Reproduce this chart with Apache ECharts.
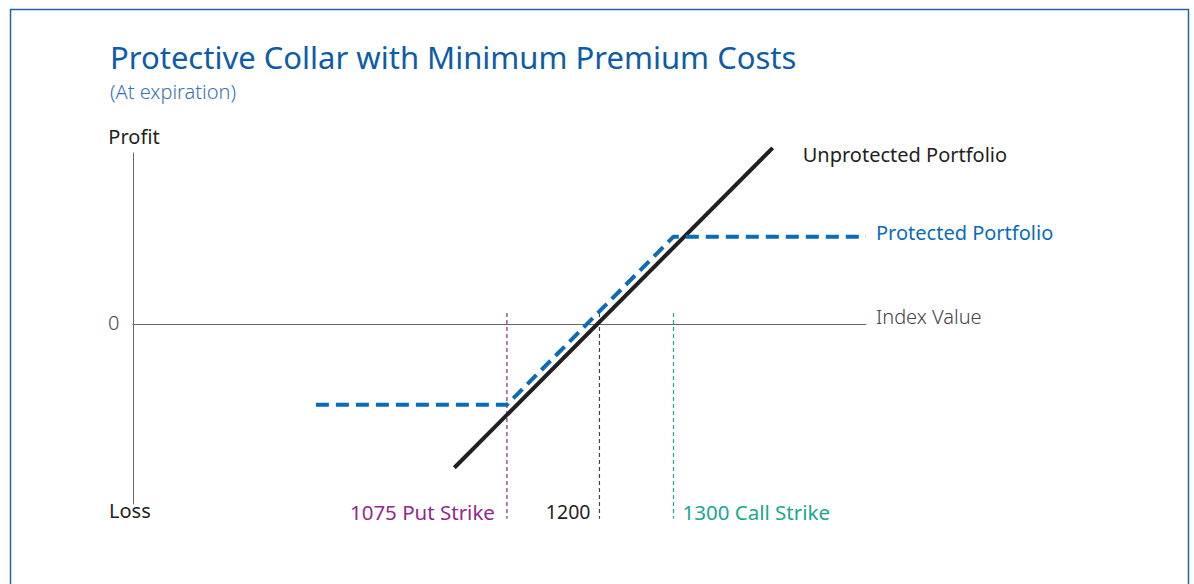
<!DOCTYPE html>
<html>
<head>
<meta charset="utf-8">
<script src="https://cdn.jsdelivr.net/npm/echarts@6/dist/echarts.min.js"></script>
<style>
  html, body { margin: 0; padding: 0; background: #fff; }
  #chart { width: 1194px; height: 584px; }
</style>
</head>
<body>
<div id="chart"></div>
<script>
// index value vs profit
const unprotected = [[1004, -194], [1434, 238]];
const protectedPf = [[817, -109], [1075, -109], [1300, 118], [1560, 118]];
const strikes = [1075, 1200, 1300];
const strikeLabels = ["1075 Put Strike", "1200", "1300 Call Strike"];
const strikeColors = ["#93278f", "#444444", "#1aa889"];
const strikeSpan = [15, -263];

const font = "Noto Sans";
const dark = "#231f20";
const blue = "#0a6cb8";

var chartDom = document.getElementById("chart");
var myChart = echarts.init(chartDom, null, { renderer: "svg" });

const strikeSeries = strikes.map((s, i) => ({
  type: "line",
  clip: false,
  silent: true,
  symbol: "circle",
  symbolSize: 0,
  showSymbol: true,
  lineStyle: { color: strikeColors[i], width: 1.2, type: [4, 3] },
  itemStyle: { color: strikeColors[i] },
  data: [
    { value: [s, strikeSpan[0]] },
    {
      value: [s, strikeSpan[1]],
      label: {
        show: true,
        formatter: strikeLabels[i],
        position: i === 2 ? "right" : "left",
        distance: i === 2 ? 9 : i === 1 ? 9 : 12,
        offset: [0, -7],
        color: i === 1 ? dark : strikeColors[i],
        fontFamily: font,
        fontSize: i === 1 ? 19.5 : 20.5,
      },
    },
  ],
  z: 1,
}));

const option = {
  animation: false,
  title: {
    text: "Protective Collar with Minimum Premium Costs",
    subtext: "(At expiration)",
    left: 105,
    top: 36,
    itemGap: 9,
    textStyle: { color: "#0d5ca8", fontFamily: font, fontSize: 31, fontWeight: "normal" },
    subtextStyle: { color: "#3673b8", fontFamily: font, fontSize: 20, fontWeight: 300 },
  },
  grid: { left: 133, right: 328, top: 153, bottom: 80 },
  xAxis: {
    type: "value",
    min: 570,
    max: 1560,
    axisLine: { show: true, lineStyle: { color: "#666", width: 1 } },
    axisTick: { show: false },
    axisLabel: { show: false },
    splitLine: { show: false },
  },
  yAxis: {
    type: "value",
    min: -243,
    max: 231,
    name: "Profit",
    nameLocation: "end",
    nameGap: 7,
    nameTextStyle: { color: dark, fontFamily: font, fontSize: 20, padding: [0, 0, 0, 2] },
    axisLine: { show: true, onZero: false, lineStyle: { color: "#666", width: 1 } },
    axisTick: { show: false },
    axisLabel: { show: false },
    splitLine: { show: false },
  },
  graphic: [
    {
      type: "rect",
      shape: { x: 10.5, y: 9.5, width: 1178, height: 620 },
      style: { fill: "none", stroke: "#2163ab", lineWidth: 1.5 },
      silent: true,
    },
    {
      type: "text",
      left: 109,
      top: 500,
      style: { text: "Loss", fill: dark, font: "20px " + font },
    },
    {
      type: "text",
      left: 108,
      top: 312,
      style: { text: "0", fill: "#444", font: "300 20px " + font },
    },
    {
      type: "text",
      left: 876,
      top: 306,
      style: { text: "Index Value", fill: "#444", font: "300 20px " + font },
    },
  ],
  series: [
    ...strikeSeries,
    {
      name: "Unprotected Portfolio",
      type: "line",
      clip: false,
      symbol: "none",
      lineStyle: { color: dark, width: 4 },
      data: unprotected,
      endLabel: {
        show: true,
        formatter: "Unprotected Portfolio",
        distance: 30,
        offset: [0, 7],
        color: dark,
        fontFamily: font,
        fontSize: 20,
      },
      z: 3,
    },
    {
      name: "Protected Portfolio",
      type: "line",
      clip: false,
      symbol: "none",
      lineStyle: { color: blue, width: 4, type: [13, 7] },
      data: protectedPf,
      endLabel: {
        show: true,
        formatter: "Protected Portfolio",
        distance: 10,
        offset: [0, -4],
        color: blue,
        fontFamily: font,
        fontSize: 20,
      },
      z: 4,
    },
  ],
};

myChart.setOption(option);
</script>
</body>
</html>
